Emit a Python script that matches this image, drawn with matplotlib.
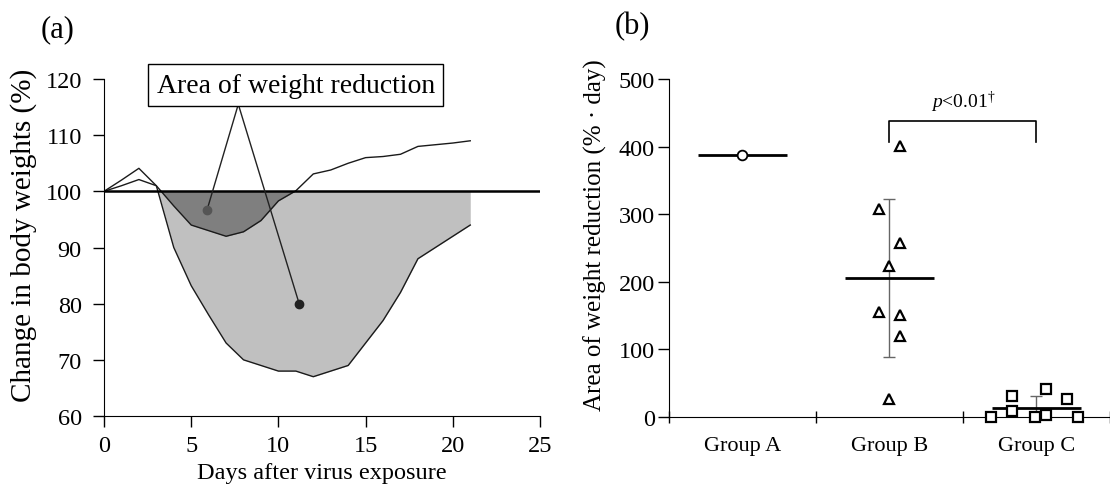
import numpy as np
import matplotlib
matplotlib.use('Agg')
import matplotlib.pyplot as plt

plt.rcParams['font.family'] = ['Liberation Serif', 'DejaVu Serif']
plt.rcParams['mathtext.fontset'] = 'custom'
plt.rcParams['mathtext.rm'] = 'Liberation Serif'
plt.rcParams['mathtext.it'] = 'Liberation Serif:italic'

# ---- (a) body weight curves ----
days = list(range(22))
weight_upper = [100, 102, 104.1, 101, 97.4, 94, 93, 92, 92.8, 94.8, 98.3, 100.1,
                103.1, 103.8, 105, 106, 106.2, 106.6, 108, 108.3, 108.6, 109]
weight_lower = [100, 101, 102.1, 101, 90, 83.2, 78, 73, 70, 69, 68, 68,
                67, 68, 69, 73, 77, 82, 88, 90, 92, 94]
baseline = 100

# callout: box anchor and the two dots it points to
callout_text = 'Area of weight reduction'
callout_anchor = (7.7, 115.5)
callout_dots = [(5.9, 96.6), (11.2, 79.9)]
callout_dot_colors = ['#555555', '#222222']

# ---- (b) area of weight reduction per animal ----
groups = ['Group A', 'Group B', 'Group C']
group_a_x = [0.5]
group_a_y = [388]
group_b_x = [1.572, 1.426, 1.572, 1.498, 1.426, 1.572, 1.572, 1.498]
group_b_y = [401, 308, 257, 224, 156, 151, 120, 27]
group_c_x = [2.192, 2.334, 2.334, 2.489, 2.563, 2.563, 2.709, 2.782]
group_c_y = [0, 31, 9, 0, 41, 3, 27, 0]

fig = plt.figure(figsize=(11.1, 4.89), dpi=100)
ax1 = fig.add_axes([0.0937, 0.1472, 0.3928, 0.6892])
ax2 = fig.add_axes([0.6027, 0.1452, 0.3973, 0.6912])

# -------- panel (a) --------
d = np.array(days, dtype=float)
up = np.array(weight_upper)
lo = np.array(weight_lower)
ax1.fill_between(d, lo, baseline, where=lo < baseline, interpolate=True,
                 color='#c0c0c0', lw=0)
ax1.fill_between(d, up, baseline, where=up < baseline, interpolate=True,
                 color='#7f7f7f', lw=0)
ax1.plot(d, up, color='#1a1a1a', lw=1.0)
ax1.plot(d, lo, color='#1a1a1a', lw=1.0)
ax1.axhline(baseline, color='black', lw=1.8)

for (dx, dy), c in zip(callout_dots, callout_dot_colors):
    ax1.plot([callout_anchor[0], dx], [callout_anchor[1], dy], color='#222222', lw=1.0,
             clip_on=False)
    ax1.plot(dx, dy, 'o', color=c, ms=6, clip_on=False)

ax1.text(11.0, 118.9, callout_text, ha='center', va='center', fontsize=20,
         bbox=dict(boxstyle='square,pad=0.3', fc='white', ec='black', lw=1.0),
         clip_on=False, zorder=5)

ax1.set_xlim(0, 25)
ax1.set_ylim(60, 120)
ax1.set_xticks(range(0, 26, 5))
ax1.set_yticks(range(60, 121, 10))
for s in ['top', 'right']:
    ax1.spines[s].set_visible(False)
ax1.tick_params(direction='out', length=8, width=1, labelsize=17.5)
ax1.tick_params(axis='y', pad=8)
ax1.tick_params(axis='x', pad=6)
ax1.set_xlabel('Days after virus exposure', fontsize=17.5, labelpad=4)
ax1.set_ylabel('Change in body weights (%)', fontsize=21)
ax1.yaxis.set_label_coords(-0.154, 0.54)
fig.text(0.052, 0.94, '(a)', fontsize=22, ha='center', va='center')

# -------- panel (b) --------
ax2.plot(group_a_x, group_a_y, 'o', mfc='white', mec='black', ms=7, mew=1.3, zorder=4)
ax2.plot(group_b_x, group_b_y, '^', mfc='white', mec='black', ms=7, mew=1.6, zorder=4)
ax2.plot(group_c_x, group_c_y, 's', mfc='white', mec='black', ms=7.5, mew=1.6, zorder=4,
         clip_on=False)

for i, vals in enumerate([group_a_y, group_b_y, group_c_y]):
    m = np.mean(vals)
    ax2.hlines(m, i + 0.2, i + 0.8, color='black', lw=2.0, zorder=3)
    if len(vals) > 1:
        sd = np.std(vals, ddof=1)
        ax2.errorbar(i + 0.5, m, yerr=sd, color='#666666', lw=1.0, capsize=4,
                     capthick=1.0, zorder=2)

# significance bracket B vs C
ax2.plot([1.5, 1.5, 2.5, 2.5], [407, 438, 438, 407], color='black', lw=1.2)
ax2.text(2.0, 448, r'$p$<0.01$^{†}$', ha='center', va='bottom', fontsize=14)

ax2.set_xlim(0, 3)
ax2.set_ylim(0, 500)
ax2.set_yticks(range(0, 501, 100))
ax2.set_xticks([0, 1, 2, 3])
ax2.set_xticklabels([])
ax2.set_xticks([0.5, 1.5, 2.5], minor=True)
ax2.set_xticklabels(groups, minor=True, fontsize=16)
ax2.tick_params(axis='x', which='major', direction='inout', length=9, width=1)
ax2.tick_params(axis='x', which='minor', length=0, pad=14)
ax2.tick_params(axis='y', direction='out', length=8, width=1, labelsize=17.5, pad=2)
for s in ['top', 'right']:
    ax2.spines[s].set_visible(False)
ax2.set_ylabel('Area of weight reduction (% · day)', fontsize=18)
ax2.yaxis.set_label_coords(-0.141, 0.54)
fig.text(0.57, 0.945, '(b)', fontsize=22, ha='center', va='center')

fig.savefig('out.png', dpi=100)
